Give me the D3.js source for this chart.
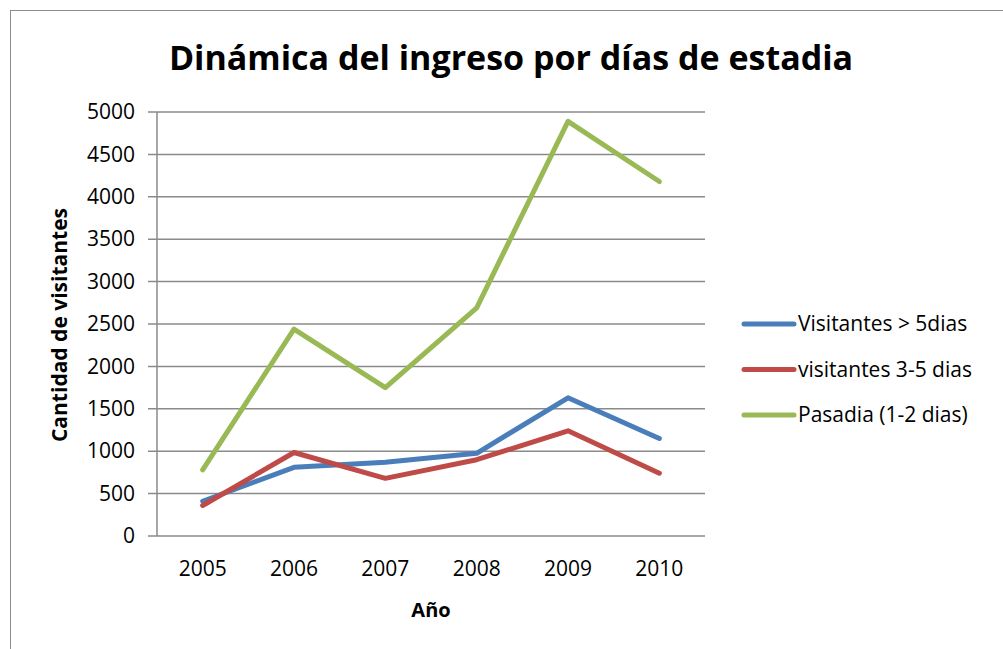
<!DOCTYPE html>
<html>
<head>
<meta charset="utf-8">
<script src="https://cdn.jsdelivr.net/npm/d3@7"></script>
<style>
  body { margin: 0; background: #fff; }
  text { font-family: "Open Sans", "Noto Sans", sans-serif; fill: #000; }
</style>
</head>
<body>
<script>
// chart data
var years = ["2005", "2006", "2007", "2008", "2009", "2010"];
var seriesNames = ["Visitantes > 5dias", "visitantes 3-5 dias", "Pasadia (1-2 dias)"];
var masDe5 = [410, 810, 870, 975, 1630, 1150];
var de3a5 = [360, 985, 680, 900, 1240, 740];
var pasadia = [780, 2440, 1750, 2690, 4890, 4180];
var yTicks = [0, 500, 1000, 1500, 2000, 2500, 3000, 3500, 4000, 4500, 5000];
var colors = ["#4A7EBB", "#BE4B48", "#98B954"];

var width = 1003, height = 649;
var plotLeft = 157, plotRight = 705, plotTop = 112, plotBottom = 536;

var svg = d3.select("body").append("svg")
    .attr("width", width)
    .attr("height", height);

// outer frame
svg.append("rect")
    .attr("x", 10.5).attr("y", 10.5)
    .attr("width", 1000).attr("height", 660)
    .style("fill", "none")
    .style("stroke", "#8c8c8c")
    .style("stroke-width", 1);

var x = d3.scaleBand().domain(years).range([plotLeft, plotRight]);
var y = d3.scaleLinear().domain([0, 5000]).range([plotBottom, plotTop]);

// gridlines
svg.append("g")
    .selectAll("line")
    .data(yTicks)
    .enter().append("line")
    .attr("x1", plotLeft - 9)
    .attr("x2", plotRight)
    .attr("y1", function(d) { return y(d); })
    .attr("y2", function(d) { return y(d); })
    .style("stroke", "#8a8a8a")
    .style("stroke-width", 1.5);

// y axis line
svg.append("line")
    .attr("x1", plotLeft).attr("x2", plotLeft)
    .attr("y1", plotTop).attr("y2", plotBottom)
    .style("stroke", "#8a8a8a")
    .style("stroke-width", 1.5);

// y tick labels
var yAxis = d3.axisLeft(y).tickValues(yTicks).tickFormat(d3.format("d")).tickSize(0).tickPadding(22);
var gy = svg.append("g").attr("transform", "translate(" + plotLeft + ",0)").call(yAxis);
gy.select(".domain").remove();
gy.selectAll("text")
    .style("font-family", "'Open Sans', sans-serif")
    .style("font-size", "21px")
    .style("fill", "#000");

// x tick labels
var xAxis = d3.axisBottom(x).tickSize(0).tickPadding(25);
var gx = svg.append("g").attr("transform", "translate(0," + plotBottom + ")").call(xAxis);
gx.select(".domain").remove();
gx.selectAll("text")
    .style("font-family", "'Open Sans', sans-serif")
    .style("font-size", "21px")
    .style("fill", "#000");

// lines
var allSeries = [masDe5, de3a5, pasadia];
var line = d3.line()
    .x(function(d, i) { return x(years[i]) + x.bandwidth() / 2; })
    .y(function(d) { return y(d); });

svg.append("g")
    .selectAll("path")
    .data(allSeries)
    .enter().append("path")
    .attr("d", line)
    .style("fill", "none")
    .style("stroke", function(d, i) { return colors[i]; })
    .style("stroke-width", 5)
    .style("stroke-linejoin", "round")
    .style("stroke-linecap", "round");

// title
svg.append("text")
    .attr("x", 511).attr("y", 70)
    .attr("text-anchor", "middle")
    .style("font-size", "34px")
    .style("font-weight", "bold")
    .text("Dinámica del ingreso por días de estadia");

// axis titles
svg.append("text")
    .attr("transform", "translate(67,325) rotate(-90)")
    .attr("text-anchor", "middle")
    .style("font-size", "21px")
    .style("font-weight", "bold")
    .text("Cantidad de visitantes");

svg.append("text")
    .attr("x", (plotLeft + plotRight) / 2).attr("y", 617)
    .attr("text-anchor", "middle")
    .style("font-size", "20px")
    .style("font-weight", "bold")
    .text("Año");

// legend
var legend = svg.append("g")
    .selectAll("g")
    .data(seriesNames)
    .enter().append("g")
    .attr("transform", function(d, i) { return "translate(744," + (324 + i * 45.5) + ")"; });

legend.append("line")
    .attr("x1", 0).attr("x2", 50)
    .style("stroke", function(d, i) { return colors[i]; })
    .style("stroke-width", 5)
    .style("stroke-linecap", "round");

legend.append("text")
    .attr("x", 54).attr("y", 7)
    .style("font-size", "21px")
    .text(function(d) { return d; });
</script>
</body>
</html>
